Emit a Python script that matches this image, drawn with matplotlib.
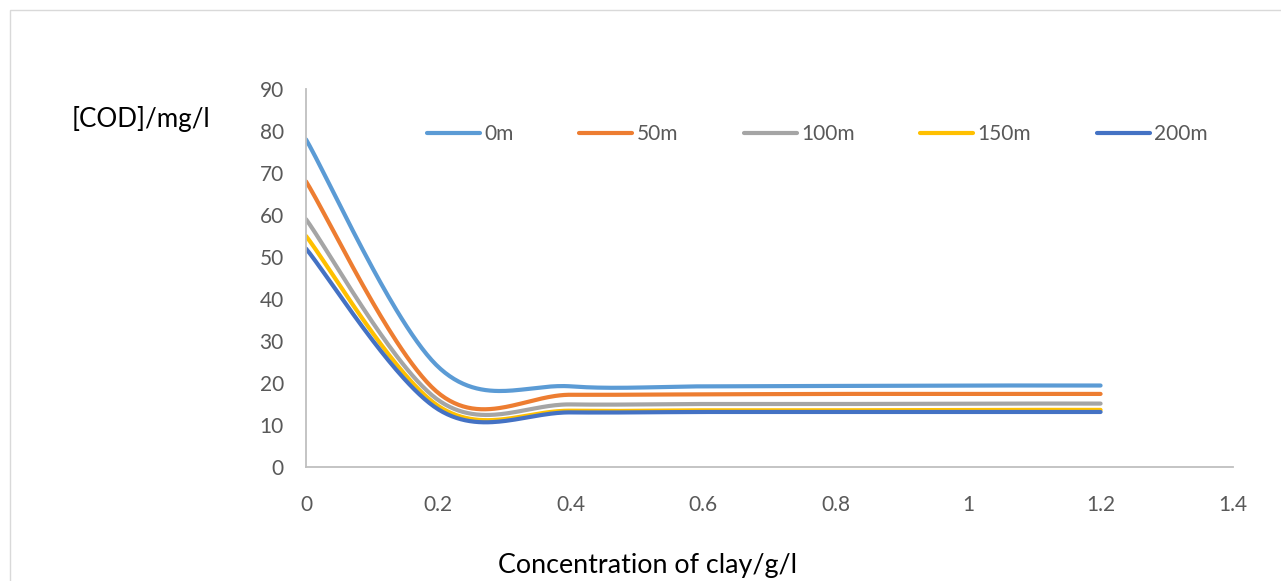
import numpy as np
import matplotlib
matplotlib.use("Agg")
import matplotlib.pyplot as plt
from matplotlib.patches import Rectangle

plt.rcParams['font.family'] = ['Lato', 'DejaVu Sans']

# ---- data ----
clay = [0, 0.2, 0.4, 0.6, 0.8, 1.0, 1.2]
cod_0m = [78, 23.8, 19.2, 19.2, 19.3, 19.4, 19.4]
cod_50m = [68, 17.6, 17.2, 17.3, 17.4, 17.4, 17.4]
cod_100m = [59, 15.9, 14.9, 15.0, 15.0, 15.1, 15.1]
cod_150m = [55, 14.5, 13.4, 13.5, 13.5, 13.6, 13.6]
cod_200m = [52, 13.7, 13.0, 13.1, 13.1, 13.1, 13.1]
series_names = ["0m", "50m", "100m", "150m", "200m"]
series_values = [cod_0m, cod_50m, cod_100m, cod_150m, cod_200m]
colors = ["#5B9BD5", "#ED7D31", "#A5A5A5", "#FFC000", "#4472C4"]
x_ticks = [0, 0.2, 0.4, 0.6, 0.8, 1, 1.2, 1.4]
x_tick_labels = ["0", "0.2", "0.4", "0.6", "0.8", "1", "1.2", "1.4"]
y_ticks = list(range(0, 91, 10))


def excel_smooth(x, y, n=60):
    """Excel-style smoothed line: Catmull-Rom like cubic Bezier segments."""
    pts = np.column_stack([np.asarray(x, float), np.asarray(y, float)])
    xs, ys = [], []
    t = np.linspace(0, 1, n)[:, None]
    for i in range(len(pts) - 1):
        p0 = pts[i - 1] if i > 0 else pts[i]
        p1 = pts[i]
        p2 = pts[i + 1]
        p3 = pts[i + 2] if i + 2 < len(pts) else pts[i + 1]
        c1 = p1 + (p2 - p0) / 6.0
        c2 = p2 - (p3 - p1) / 6.0
        b = ((1 - t) ** 3) * p1 + 3 * ((1 - t) ** 2) * t * c1 + 3 * (1 - t) * t ** 2 * c2 + t ** 3 * p2
        xs.append(b[:, 0])
        ys.append(b[:, 1])
    return np.concatenate(xs), np.concatenate(ys)


W, H = 1281, 581
fig = plt.figure(figsize=(W / 100, H / 100), dpi=100)
fig.patch.set_facecolor("white")

# chart border (Excel chart area)
fig.patches.append(Rectangle((10 / W, -0.2), 1.5, (H - 10) / H + 0.2,
                             transform=fig.transFigure, fill=False,
                             edgecolor="#D9D9D9", lw=1.0))

ax = fig.add_axes([306 / W, 1 - 467 / H, (1233 - 306) / W, (467 - 89) / H])

for name, vals, c in zip(series_names, series_values, colors):
    sx, sy = excel_smooth(clay, vals)
    ax.plot(sx, sy, color=c, lw=3.0, label=name, solid_capstyle="round")

ax.set_xlim(0, 1.4)
ax.set_ylim(0, 90)
ax.set_xticks(x_ticks)
ax.set_xticklabels(x_tick_labels)
ax.set_yticks(y_ticks)
for s in ["top", "right"]:
    ax.spines[s].set_visible(False)
for s in ["left", "bottom"]:
    ax.spines[s].set_color("#BFBFBF")
    ax.spines[s].set_linewidth(1.3)
ax.tick_params(axis="both", length=0, labelsize=15, colors="#595959")
ax.tick_params(axis="x", pad=20)
ax.tick_params(axis="y", pad=16)

leg = ax.legend(loc="center left", bbox_to_anchor=(427 / W, 1 - 134 / H),
                bbox_transform=fig.transFigure, ncol=5, frameon=False,
                fontsize=15, handlelength=2.55, handletextpad=0.2,
                columnspacing=3.15, borderpad=0, borderaxespad=0)
for txt in leg.get_texts():
    txt.set_color("#595959")

fig.text(72 / W, 1 - 119 / H, "[COD]/mg/l", ha="left", va="center",
         fontsize=18.7, color="black")
fig.text(648 / W, 1 - 565 / H, "Concentration of clay/g/l", ha="center",
         va="center", fontsize=19.4, color="black")

fig.savefig("out.png", dpi=100, facecolor="white")
